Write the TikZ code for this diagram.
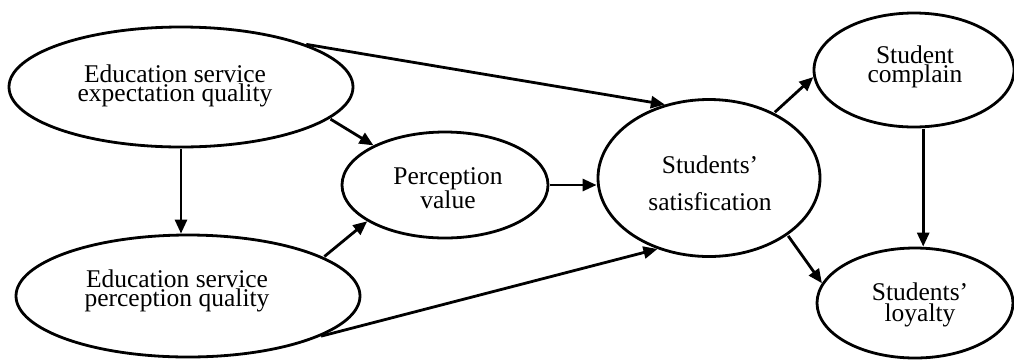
\documentclass[tikz,border=0pt]{standalone}
\usepackage{fontspec}
\setmainfont{Liberation Serif}
\usetikzlibrary{shapes.geometric,arrows.meta}
\tikzset{
  oval/.style={ellipse, draw, line width=2.8pt, inner sep=0pt},
  lbl/.style={align=center, inner sep=0pt, font=\fontsize{25.5}{19.5}\selectfont},
  wide/.style={align=center, inner sep=0pt, font=\fontsize{25.5}{36.7}\selectfont},
  arr/.style={line width=2.8pt, -{Triangle[length=14pt,width=12pt]}, shorten <=1pt}
}
\begin{document}
\begin{tikzpicture}[x=1pt,y=-1pt]
\useasboundingbox[fill=white] (0,0) rectangle (1014,360);
% ellipses
\node[oval, minimum width=344pt, minimum height=120pt] (E1) at (181,87) {};
\node[oval, minimum width=344pt, minimum height=122pt] (E2) at (188,296) {};
\node[oval, minimum width=206pt, minimum height=106pt] (PV) at (445,185) {};
\node[oval, minimum width=222pt, minimum height=157pt] (SS) at (709,178) {};
\node[oval, minimum width=200pt, minimum height=114pt] (SC) at (914,70) {};
\node[oval, minimum width=196pt, minimum height=110pt] (SL) at (915,303) {};
% texts
\node[lbl] (E1t) at (175,86) {Education service\\expectation quality};
\node[lbl] (E2t) at (177,291) {Education service\\perception quality};
\node[lbl, font=\fontsize{25.5}{20.5}\selectfont] (PVt) at (448,188) {Perception\\value};
\node[wide] (SSt) at (710,183) {Students’\\satisfication};
\node[lbl] (SCt) at (915,67) {Student\\complain};
\node[lbl, font=\fontsize{25.5}{20.5}\selectfont] (SLt) at (920,305) {Students’\\loyalty};
% connectors
\draw[arr] (E1.south) -- (E1.south |- E2.north);
\draw[arr] (E1.19.4) -- (SS.121.4);
\draw[arr] (E1.-12.9) -- (PV.151.3);
\draw[arr] (E2.16.4) -- (PV.205.4);
\draw[arr] (E2.-17.5) -- (SS.234.7);
\draw[arr] (PV.east) -- (PV.east -| SS.west);
\draw[arr] (SS.45.9) -- (SC.184.6);
\draw[arr] (SS.-36.9) -- (SL.168.7);
\draw[arr] (SC.-81) -- (SC.-81 |- SL.north);
\end{tikzpicture}
\end{document}
